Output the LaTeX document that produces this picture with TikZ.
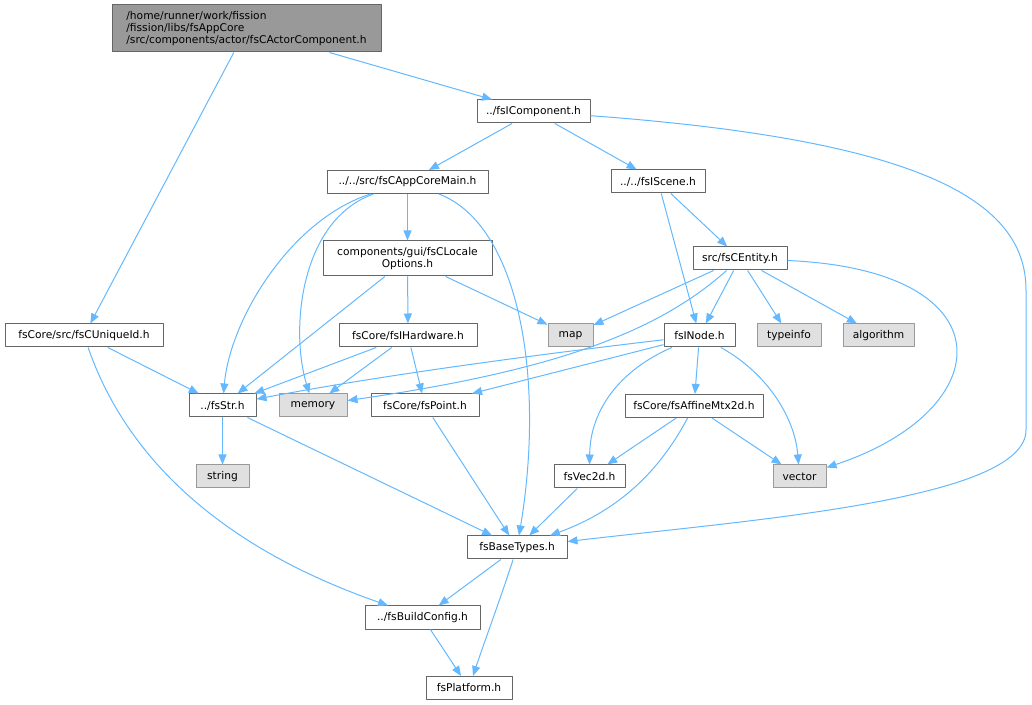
\documentclass[tikz,border=0pt]{standalone}
\usepackage{fontspec}
\setmainfont{DejaVu Sans}
\usetikzlibrary{arrows.meta}

\definecolor{edgeblue}{HTML}{63B8FF}
\definecolor{boxgray}{HTML}{666666}
\definecolor{extgray}{HTML}{999999}
\definecolor{extfill}{HTML}{E0E0E0}

\tikzset{
  file/.style={draw=boxgray,fill=white,line width=0.75pt,inner sep=0pt,minimum height=17.25pt,font=\fontsize{8pt}{9pt}\selectfont},
  extfile/.style={file,draw=extgray,fill=extfill},
  rootfile/.style={file,draw=boxgray,fill=extgray},
  boxw/.style={minimum width=#1*0.75pt},
  dep/.style={color=edgeblue,line width=0.75pt,-{Triangle[length=7.5pt,width=6pt]}}
}

\begin{document}
\begin{tikzpicture}[x=0.75pt,y=-0.75pt,line join=round]
\useasboundingbox (0,0) rectangle (1032,705);
% files
\node[rootfile,boxw=269,minimum height=35.25pt,align=left] (root) at (246.5,28.5) {/home/runner/work/fission\\/fission/libs/fsAppCore\\/src/components/actor/fsCActorComponent.h};
\node[file,boxw=113] (comp) at (533.5,111.5) {../fsIComponent.h};
\node[file,boxw=161] (appmain) at (407.5,182) {../../src/fsCAppCoreMain.h};
\node[file,boxw=94] (scene) at (658,181.5) {../../fsIScene.h};
\node[file,boxw=94] (entity) at (740,258.5) {src/fsCEntity.h};
\node[file,boxw=169,minimum height=26.25pt,align=center] (locale) at (407.5,258.5) {components/gui/fsCLocale\\Options.h};
\node[file,boxw=158] (uid) at (84,335.5) {fsCore/src/fsCUniqueId.h};
\node[file,boxw=138] (hw) at (408,335.5) {fsCore/fsIHardware.h};
\node[extfile,boxw=45] (map) at (570.5,335.5) {map};
\node[file,boxw=71] (inode) at (699.5,335.5) {fsINode.h};
\node[extfile,boxw=64] (typeinfo) at (789,335.5) {typeinfo};
\node[extfile,boxw=71] (algorithm) at (878.5,335.5) {algorithm};
\node[file,boxw=67] (str) at (222.5,405.5) {../fsStr.h};
\node[extfile,boxw=68] (memory) at (313,405.5) {memory};
\node[file,boxw=108] (point) at (425,405.5) {fsCore/fsPoint.h};
\node[file,boxw=138] (affine) at (694,406) {fsCore/fsAffineMtx2d.h};
\node[extfile,boxw=53] (string) at (222.5,476.5) {string};
\node[file,boxw=71] (vec) at (589.5,476.5) {fsVec2d.h};
\node[extfile,boxw=53] (vector) at (799.5,476.5) {vector};
\node[file,boxw=100] (base) at (517,547.5) {fsBaseTypes.h};
\node[file,boxw=115] (build) at (422.5,617.5) {../fsBuildConfig.h};
\node[file,boxw=86] (platform) at (469,688) {fsPlatform.h};
% includes
\draw[dep] (root) -- (comp);
\draw[dep] (root) -- (uid);
\draw[dep] (comp) -- (appmain);
\draw[dep] (comp) -- (scene);
\draw[dep] (comp) .. controls (920,140) and (1026,200) .. (1026,290) -- (1026,430) .. controls (1026,500) and (750,520) .. (base);
\draw[dep] (appmain) -- (locale);
\draw[dep] (appmain) .. controls (290,220) and (230,320) .. (str);
\draw[dep] (appmain) .. controls (300,220) and (290,330) .. (memory);
\draw[dep] (appmain) .. controls (520,225) and (545,380) .. (base);
\draw[dep] (scene) -- (inode);
\draw[dep] (scene) -- (entity);
\draw[dep] (locale) -- (str);
\draw[dep] (locale) -- (hw);
\draw[dep] (locale) -- (map);
\draw[dep] (uid) -- (str);
\draw[dep] (uid) .. controls (120,440) and (200,540) .. (build);
\draw[dep] (hw) -- (str);
\draw[dep] (hw) -- (memory);
\draw[dep] (hw) -- (point);
\draw[dep] (entity) -- (map);
\draw[dep] (entity) -- (inode);
\draw[dep] (entity) -- (typeinfo);
\draw[dep] (entity) -- (algorithm);
\draw[dep] (entity) .. controls (1010,270) and (1000,410) .. (vector);
\draw[dep] (entity) .. controls (660,330) and (560,370) .. (memory);
\draw[dep] (inode) .. controls (560,352) and (400,372) .. (str);
\draw[dep] (inode) -- (point);
\draw[dep] (inode) .. controls (620,370) and (590,410) .. (vec);
\draw[dep] (inode) -- (affine);
\draw[dep] (inode) .. controls (770,375) and (795,420) .. (vector);
\draw[dep] (affine) -- (vec);
\draw[dep] (affine) -- (vector);
\draw[dep] (affine) .. controls (660,470) and (620,510) .. (base);
\draw[dep] (str) -- (string);
\draw[dep] (str) -- (base);
\draw[dep] (point) -- (base);
\draw[dep] (vec) -- (base);
\draw[dep] (base) -- (build);
\draw[dep] (base) .. controls (500,600) and (485,640) .. (platform);
\draw[dep] (build) -- (platform);
\end{tikzpicture}
\end{document}
